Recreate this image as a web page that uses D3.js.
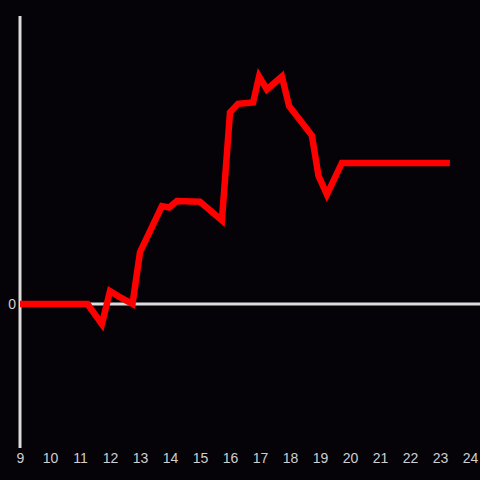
<!DOCTYPE html>
<html>
<head>
<meta charset="utf-8">
<script src="https://cdn.jsdelivr.net/npm/d3@7"></script>
<style>
  html, body { margin: 0; padding: 0; background: #050308; }
  svg { display: block; }
  .tick text { font-family: "Liberation Sans", Arial, sans-serif; font-size: 14px; fill: #cfcfcf; }
</style>
</head>
<body>
<svg id="chart" width="480" height="480"></svg>
<script>
// hour of day and value (arbitrary units, 0 = baseline)
const hours = [9, 11.25, 11.73, 12.0, 12.27, 12.75, 13.0, 13.73, 13.97, 14.23, 15.0, 15.73, 16.0, 16.27, 16.77, 16.97, 17.23, 17.73, 17.97, 18.73, 18.95, 19.23, 19.73, 23.33];
const values = [0, 0, -0.14, 0.09, 0.055, 0, 0.36, 0.68, 0.67, 0.715, 0.71, 0.58, 1.33, 1.39, 1.40, 1.58, 1.49, 1.58, 1.375, 1.17, 0.89, 0.76, 0.98, 0.98];
const xTicks = d3.range(9, 25);
const yTicks = [0];

const svg = d3.select("#chart");
const x = d3.scaleLinear().domain([9, 24]).range([20, 470]);
const y = d3.scaleLinear().domain([-1, 2]).range([448, 16]);

const data = hours.map((h, i) => ({ h, v: values[i] }));

// y axis line
svg.append("line")
    .attr("x1", x(9)).attr("x2", x(9))
    .attr("y1", y(2)).attr("y2", y(-1))
    .attr("stroke", "#dcdcdc").attr("stroke-width", 3);

// zero line
svg.append("line")
    .attr("x1", x(9)).attr("x2", 480)
    .attr("y1", y(0)).attr("y2", y(0))
    .attr("stroke", "#dcdcdc").attr("stroke-width", 3);

// x tick labels
const xAxis = svg.append("g")
    .attr("transform", `translate(0,${y(-1)})`)
    .call(d3.axisBottom(x).tickValues(xTicks).tickSize(0).tickPadding(5).tickFormat(d3.format("d")));
xAxis.select(".domain").remove();

// y tick labels
const yAxis = svg.append("g")
    .attr("transform", `translate(${x(9)},0)`)
    .call(d3.axisLeft(y).tickValues(yTicks).tickSize(0).tickPadding(4).tickFormat(d3.format("d")));
yAxis.select(".domain").remove();

// series
const line = d3.line().x(d => x(d.h)).y(d => y(d.v));
svg.append("path")
    .datum(data)
    .attr("d", line)
    .attr("fill", "none")
    .attr("stroke", "#ff0000")
    .attr("stroke-width", 6.5)
    .attr("stroke-linejoin", "miter");
</script>
</body>
</html>
